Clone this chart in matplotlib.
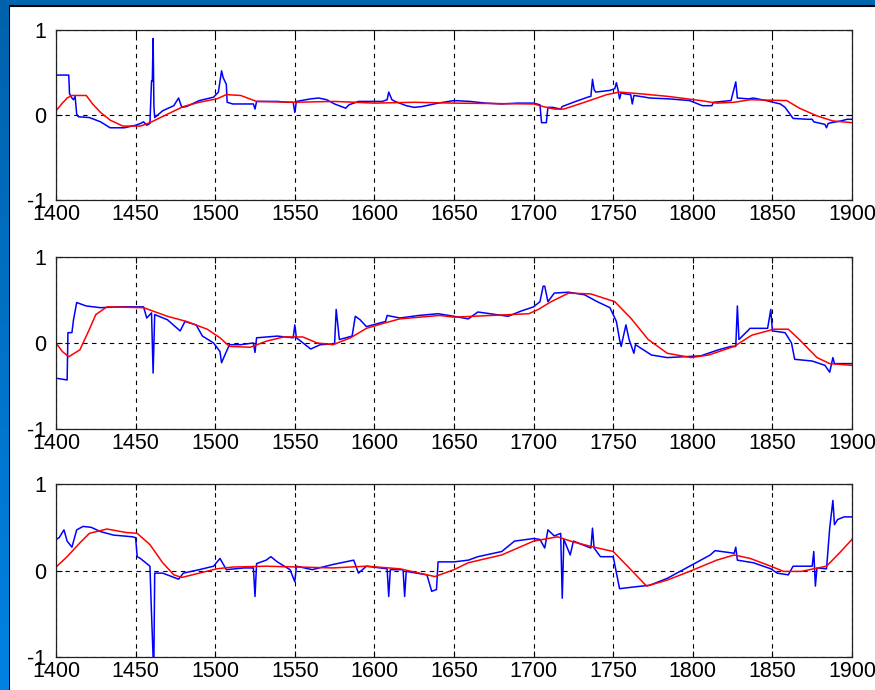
import numpy as np
import matplotlib
matplotlib.use('Agg')
import matplotlib.pyplot as plt
from matplotlib.patches import Rectangle
from matplotlib.colors import LinearSegmentedColormap

plt.rcParams['font.family'] = ['Liberation Sans', 'DejaVu Sans']
plt.rcParams['axes.unicode_minus'] = False

# panel 1
p1_blue_year = [1400, 1408, 1408.5, 1410, 1411, 1412, 1413, 1414, 1421, 1428, 1434, 1443, 1450, 1453, 1455, 1457,
                1459, 1460, 1460.5, 1461, 1461.5, 1462, 1467, 1474, 1477, 1479, 1482, 1490, 1499, 1502, 1504, 1505,
                1507, 1507.5, 1511, 1524, 1525, 1526, 1539, 1545, 1549, 1550, 1551, 1560, 1565, 1570, 1575, 1582,
                1584, 1590, 1605, 1608, 1609, 1611, 1613, 1620, 1625, 1630, 1640, 1650, 1660, 1670, 1680, 1690,
                1700, 1704, 1705, 1708, 1709, 1712, 1717, 1718, 1725, 1734, 1736, 1737, 1738, 1739, 1748, 1751,
                1752, 1753, 1754, 1755, 1757, 1761, 1762, 1763, 1770, 1773, 1785, 1798, 1806, 1812, 1813, 1824,
                1827, 1828, 1835, 1838, 1846, 1855, 1858, 1863, 1872, 1875, 1876, 1883, 1884, 1885, 1887, 1893,
                1897, 1900]
p1_blue_val = [0.47, 0.47, 0.25, 0.20, 0.18, 0.22, 0.01, -0.02, -0.03, -0.08, -0.15, -0.15, -0.12, -0.10, -0.08, -0.12,
               -0.10, 0.40, 0.40, 0.90, 0.10, -0.03, 0.05, 0.11, 0.20, 0.09, 0.10, 0.17, 0.21, 0.27, 0.52, 0.44,
               0.36, 0.15, 0.13, 0.13, 0.07, 0.16, 0.16, 0.15, 0.15, 0.03, 0.16, 0.19, 0.20, 0.18, 0.13, 0.08,
               0.12, 0.16, 0.16, 0.18, 0.27, 0.18, 0.16, 0.11, 0.09, 0.10, 0.14, 0.17, 0.16, 0.14, 0.13, 0.14,
               0.14, 0.12, -0.09, -0.09, 0.09, 0.09, 0.07, 0.10, 0.15, 0.21, 0.22, 0.42, 0.30, 0.27, 0.29, 0.31,
               0.38, 0.30, 0.19, 0.26, 0.25, 0.24, 0.13, 0.23, 0.21, 0.20, 0.19, 0.17, 0.11, 0.11, 0.15, 0.17,
               0.39, 0.20, 0.19, 0.20, 0.17, 0.13, 0.09, -0.04, -0.05, -0.05, -0.08, -0.11, -0.15, -0.10, -0.09, -0.07,
               -0.05, -0.05]
p1_red_year = [1400, 1404, 1407, 1410, 1419, 1423, 1428, 1434, 1442, 1453, 1459, 1470, 1480, 1490, 1501, 1507,
               1516, 1526, 1550, 1575, 1600, 1625, 1650, 1700, 1706, 1713, 1719, 1732, 1746, 1754, 1767, 1784,
               1805, 1815, 1826, 1836, 1859, 1867, 1878, 1888, 1900]
p1_red_val = [0.05, 0.14, 0.20, 0.23, 0.23, 0.13, 0.03, -0.06, -0.13, -0.13, -0.09, 0.01, 0.10, 0.15, 0.19, 0.24,
              0.23, 0.16, 0.15, 0.16, 0.14, 0.15, 0.14, 0.13, 0.10, 0.07, 0.07, 0.15, 0.24, 0.27, 0.25, 0.22,
              0.17, 0.14, 0.15, 0.18, 0.17, 0.08, -0.01, -0.07, -0.09]

# panel 2
p2_blue_year = [1400, 1407, 1407.5, 1410, 1411, 1413, 1419, 1428, 1440, 1455, 1457, 1460, 1461, 1462, 1470, 1478,
                1481, 1488, 1492, 1499, 1503, 1504, 1507, 1509, 1516, 1524, 1525, 1526, 1539, 1549, 1550, 1551,
                1560, 1566, 1575, 1576, 1578, 1586, 1588, 1591, 1595, 1607, 1608, 1616, 1628, 1640, 1650, 1659,
                1665, 1684, 1692, 1700, 1704, 1706, 1707, 1709, 1713, 1722, 1732, 1740, 1748, 1752, 1754, 1755,
                1758, 1760, 1763, 1764, 1774, 1784, 1805, 1816, 1824, 1827, 1828, 1829, 1836, 1847, 1849, 1850,
                1858, 1862, 1864, 1875, 1883, 1886, 1888, 1889, 1900]
p2_blue_val = [-0.41, -0.43, 0.12, 0.12, 0.27, 0.47, 0.43, 0.41, 0.42, 0.42, 0.29, 0.35, -0.35, 0.33, 0.27, 0.14,
               0.25, 0.21, 0.08, 0.00, -0.10, -0.23, -0.10, -0.02, -0.02, 0.00, -0.11, 0.06, 0.08, 0.06, 0.21, 0.06,
               -0.07, -0.02, -0.01, 0.39, 0.04, 0.08, 0.31, 0.27, 0.19, 0.25, 0.32, 0.29, 0.32, 0.34, 0.31, 0.28,
               0.36, 0.31, 0.37, 0.42, 0.48, 0.66, 0.66, 0.48, 0.58, 0.59, 0.56, 0.48, 0.41, 0.25, 0.04, -0.04,
               0.21, 0.04, -0.12, -0.02, -0.14, -0.17, -0.15, -0.08, -0.04, -0.04, 0.43, 0.04, 0.17, 0.17, 0.39, 0.14,
               0.12, 0.00, -0.19, -0.21, -0.26, -0.34, -0.17, -0.24, -0.24]
p2_red_year = [1400, 1404, 1408, 1415, 1421, 1425, 1432, 1455, 1461, 1470, 1482, 1495, 1503, 1509, 1522, 1532,
               1543, 1555, 1564, 1574, 1585, 1595, 1606, 1616, 1641, 1650, 1697, 1703, 1711, 1722, 1736, 1751,
               1761, 1772, 1784, 1799, 1810, 1826, 1837, 1851, 1860, 1868, 1878, 1886, 1900]
p2_red_val = [0.00, -0.10, -0.16, -0.08, 0.16, 0.33, 0.42, 0.41, 0.37, 0.31, 0.25, 0.16, 0.06, -0.04, -0.05, 0.02,
              0.07, 0.07, 0.00, -0.02, 0.06, 0.17, 0.23, 0.28, 0.32, 0.30, 0.34, 0.39, 0.48, 0.58, 0.57, 0.48,
              0.29, 0.04, -0.12, -0.17, -0.14, -0.04, 0.09, 0.16, 0.16, 0.02, -0.17, -0.24, -0.26]

# panel 3
p3_blue_year = [1400, 1402, 1405, 1407, 1410, 1413, 1417, 1422, 1428, 1436, 1448, 1450, 1451, 1453, 1459, 1460,
                1461, 1461.5, 1462, 1467, 1477, 1480, 1490, 1499, 1503, 1507, 1518, 1524, 1525, 1526, 1532, 1535,
                1539, 1547, 1550, 1551, 1561, 1574, 1587, 1590, 1595, 1608, 1609, 1610, 1618, 1619, 1620, 1633,
                1636, 1639, 1640, 1650, 1659, 1665, 1680, 1688, 1700, 1704, 1707, 1709, 1713, 1717, 1718, 1719,
                1723, 1725, 1736, 1737, 1738, 1742, 1750, 1754, 1763, 1773, 1784, 1798, 1811, 1814, 1826, 1827,
                1828, 1838, 1849, 1853, 1860, 1863, 1875, 1876, 1877, 1878, 1884, 1886, 1888, 1889, 1891, 1895,
                1900]
p3_blue_val = [0.36, 0.38, 0.47, 0.34, 0.27, 0.47, 0.51, 0.50, 0.45, 0.41, 0.39, 0.38, 0.16, 0.14, 0.05, -0.50,
               -1.00, -1.00, -0.03, -0.03, -0.10, -0.03, 0.01, 0.05, 0.14, 0.01, 0.03, 0.03, -0.30, 0.08, 0.12, 0.16,
               0.10, 0.01, -0.13, 0.05, 0.01, 0.07, 0.12, -0.03, 0.05, 0.02, -0.30, 0.01, 0.01, -0.30, -0.01, -0.05,
               -0.24, -0.22, 0.10, 0.10, 0.12, 0.16, 0.22, 0.34, 0.37, 0.36, 0.26, 0.47, 0.40, 0.43, -0.32, 0.36,
               0.18, 0.34, 0.26, 0.49, 0.26, 0.16, 0.16, -0.21, -0.19, -0.17, -0.09, 0.05, 0.18, 0.23, 0.20, 0.27,
               0.12, 0.09, 0.02, -0.03, -0.05, 0.05, 0.05, 0.22, -0.18, 0.03, 0.02, 0.49, 0.81, 0.53, 0.59, 0.62,
               0.62]
p3_red_year = [1400, 1407, 1415, 1421, 1432, 1444, 1451, 1459, 1467, 1474, 1479, 1490, 1501, 1511, 1532, 1553,
               1574, 1595, 1616, 1638, 1650, 1659, 1680, 1700, 1715, 1725, 1738, 1750, 1759, 1771, 1784, 1798,
               1815, 1826, 1836, 1849, 1857, 1868, 1884, 1893, 1900]
p3_red_val = [0.04, 0.16, 0.32, 0.43, 0.48, 0.44, 0.43, 0.30, 0.09, -0.05, -0.08, -0.03, 0.02, 0.04, 0.05, 0.04,
              0.03, 0.05, 0.02, -0.07, 0.01, 0.09, 0.18, 0.34, 0.39, 0.33, 0.27, 0.22, 0.05, -0.18, -0.11, -0.01,
              0.12, 0.18, 0.14, 0.05, -0.01, -0.01, 0.05, 0.22, 0.36]

x_ticks = [1400, 1450, 1500, 1550, 1600, 1650, 1700, 1750, 1800, 1850, 1900]
y_ticks = [-1, 0, 1]

panels = [(p1_blue_year, p1_blue_val, p1_red_year, p1_red_val),
          (p2_blue_year, p2_blue_val, p2_red_year, p2_red_val),
          (p3_blue_year, p3_blue_val, p3_red_year, p3_red_val)]

fig = plt.figure(figsize=(8.75, 6.9), dpi=100, facecolor='#0064ae')

# window frame: blue strip on the left fading lighter towards the bottom
frame = fig.add_axes([0, 0, 9/875, 1])
frame.imshow(np.linspace(0, 1, 100).reshape(-1, 1), aspect='auto',
             cmap=LinearSegmentedColormap.from_list('win', ['#0062ac', '#0082e2']))
frame.set_axis_off()

# white window area with dark edge
fig.patches.append(Rectangle((9/875, -0.01), 1.0, (690-6)/690 + 0.01, transform=fig.transFigure,
                             facecolor='white', edgecolor='black', linewidth=1.5, zorder=-1))

bottoms = [0.7101, 0.3783, 0.0478]
heights = [0.2464, 0.2493, 0.2507]

for k in range(3):
    ax = fig.add_axes([0.064, bottoms[k], 0.9097, heights[k]])
    by, bv, ry, rv = panels[k]
    ax.plot(by, bv, color='#0000ff', linewidth=1.1)
    ax.plot(ry, rv, color='#ff0000', linewidth=1.1)
    ax.set_xlim(1400, 1900)
    ax.set_ylim(-1, 1)
    ax.set_xticks(x_ticks)
    ax.set_yticks(y_ticks)
    ax.grid(True, color='black', linestyle=(0, (4, 4)), linewidth=0.8)
    ax.tick_params(direction='in', length=4, width=0.8, top=True, right=True,
                   labelsize=15.5, colors='black')
    ax.tick_params(axis='x', pad=3)
    ax.tick_params(axis='y', pad=7)
    for s in ax.spines.values():
        s.set_linewidth(0.9)
        s.set_color('#202020')

fig.savefig('out.png', dpi=100, facecolor=fig.get_facecolor())
